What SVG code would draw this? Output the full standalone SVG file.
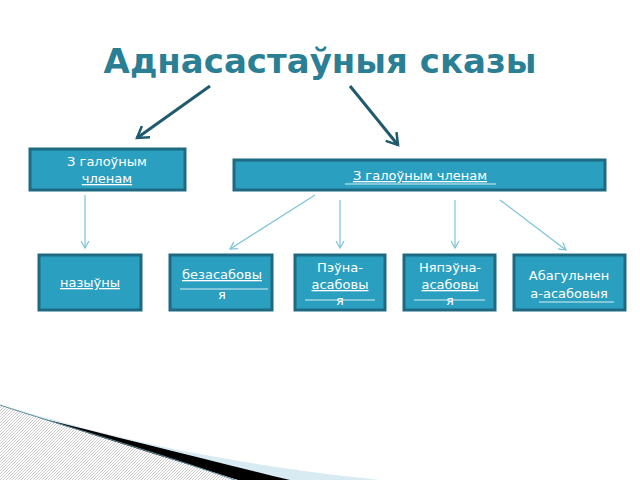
<svg xmlns="http://www.w3.org/2000/svg" width="640" height="480" viewBox="0 0 640 480">
<defs>
<style>
.box{fill:#2b9fbf;stroke:#1d6a82;stroke-width:3}
.t{font-family:"DejaVu Sans",sans-serif;font-size:13px;fill:#fff;text-anchor:middle}
.c{stroke:#7cc3d8;stroke-width:1.2;fill:none;marker-end:url(#a)}
.ul{stroke:#d8eef4;stroke-width:1}
</style>
<marker id="a" markerWidth="10" markerHeight="10" refX="8" refY="5" orient="auto" markerUnits="userSpaceOnUse"><path d="M1,1 L8,5 L1,9" fill="none" stroke="#7cc3d8" stroke-width="1.2"/></marker>
<marker id="b" markerWidth="16" markerHeight="16" refX="12" refY="8" orient="auto" markerUnits="userSpaceOnUse"><path d="M1,1 L12,8 L1,15" fill="none" stroke="#1f5a6e" stroke-width="2.5"/></marker>
<pattern id="h" width="3" height="3" patternUnits="userSpaceOnUse"><rect width="3" height="3" fill="#fff"/><path d="M0,3 L3,0" stroke="#bbb" stroke-width="0.8"/></pattern>
</defs>
<rect width="640" height="480" fill="#fff"/>
<text x="320" y="73" font-family="DejaVu Sans,sans-serif" font-size="34" font-weight="bold" fill="#2b7f94" text-anchor="middle">Аднасастаўныя сказы</text>
<g id="deco">
<path d="M0,405 L0,480 L235,480 C150,450 60,425 0,405Z" fill="url(#h)"/>
<path d="M0,405 C90,430 190,460 380,480 L240,480 C160,455 80,430 0,405Z" fill="#d9ebf2"/>
<path d="M40,418 C110,440 180,462 238,480 L290,480 C200,458 120,438 40,418Z" fill="#000"/>
<path d="M0,405 C60,425 150,450 235,480" fill="none" stroke="#5e8fa0" stroke-width="1"/>
</g>
<g id="connectors">
<line x1="210" y1="86" x2="137" y2="138" stroke="#1f5a6e" stroke-width="3" marker-end="url(#b)"/>
<line x1="350" y1="86" x2="398" y2="145" stroke="#1f5a6e" stroke-width="3" marker-end="url(#b)"/>
<line class="c" x1="85" y1="195" x2="85" y2="248"/>
<line class="c" x1="315" y1="195" x2="230" y2="249"/>
<line class="c" x1="340" y1="200" x2="340" y2="248"/>
<line class="c" x1="455" y1="200" x2="455" y2="248"/>
<line class="c" x1="500" y1="200" x2="566" y2="250"/>
</g>
<g id="n1"><rect class="box" x="30" y="149" width="155" height="41"/><text class="t" x="107" y="166">З галоўным</text><text class="t" x="107" y="183" text-decoration="underline">членам</text></g>
<g id="n2"><rect class="box" x="234" y="160" width="371" height="30"/><text class="t" x="420" y="180" text-decoration="underline">З галоўным членам</text><line class="ul" x1="345" y1="184" x2="496" y2="184"/></g>
<g id="n3"><rect class="box" x="39" y="255" width="102" height="55"/><text class="t" x="90" y="287" text-decoration="underline">назыўны</text></g>
<g id="n4"><rect class="box" x="170" y="255" width="102" height="55"/><text class="t" x="222" y="279" text-decoration="underline">безасабовы</text><line class="ul" x1="180" y1="289" x2="268" y2="289"/><text class="t" x="222" y="299">я</text></g>
<g id="n5"><rect class="box" x="295" y="255" width="90" height="55"/><text class="t" x="340" y="272">Пэўна-</text><text class="t" x="340" y="289" text-decoration="underline">асабовы</text><text class="t" x="340" y="305">я</text><line class="ul" x1="305" y1="300" x2="375" y2="300"/></g>
<g id="n6"><rect class="box" x="404" y="255" width="91" height="55"/><text class="t" x="450" y="272">Няпэўна-</text><text class="t" x="450" y="289" text-decoration="underline">асабовы</text><text class="t" x="450" y="305">я</text><line class="ul" x1="414" y1="300" x2="485" y2="300"/></g>
<g id="n7"><rect class="box" x="514" y="255" width="111" height="55"/><text class="t" x="569" y="280">Абагульнен</text><text class="t" x="569" y="298">а-асабовыя</text><line class="ul" x1="539" y1="302" x2="614" y2="302"/></g>
</svg>
